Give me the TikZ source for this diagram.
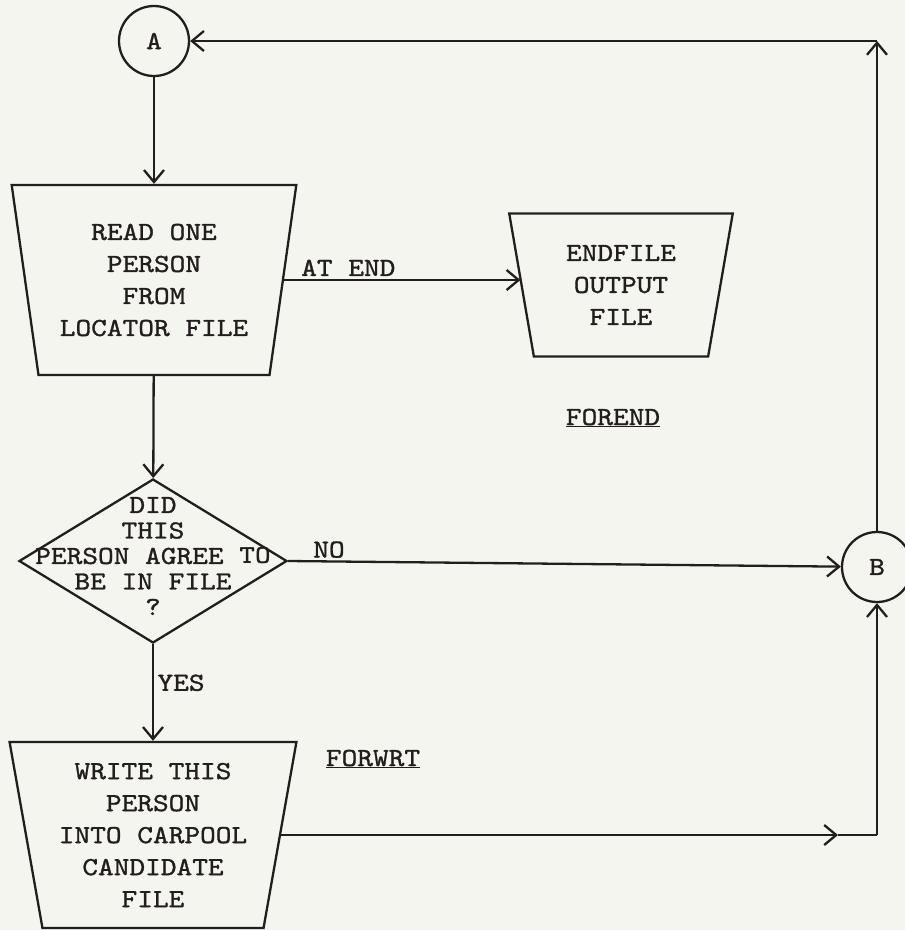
\documentclass[tikz,border=0pt]{standalone}
\usepackage{fontspec}
\setmonofont{lmmono10-regular}[Extension=.otf, BoldFont=lmmonolt10-bold, FakeStretch=1.15, UprightFeatures={FakeBold=1.2}]
\usetikzlibrary{shapes.geometric,arrows.meta}
\definecolor{paper}{RGB}{245,245,240}
\definecolor{ink}{RGB}{35,30,30}
\begin{document}
\begin{tikzpicture}[x=1pt, y=-1pt, line width=2.3pt, color=ink,
    every node/.style={font=\ttfamily\fontsize{26}{32}\selectfont, text=ink},
    flow/.style={-{Straight Barb[length=12pt,width=20pt]}},
    conn/.style={draw, circle, minimum size=70pt, inner sep=0pt},
    iobox/.style={draw, trapezium, shape border rotate=180, trapezium angle=79,
      trapezium stretches=true, align=center, inner sep=0pt},
    decision/.style={draw, diamond, inner sep=0pt, minimum width=268pt, minimum height=164pt}]
  \fill[paper] (0,0) rectangle (905,930);
  \useasboundingbox (0,0) rectangle (905,930);
  % nodes
  \node[conn] (A) at (154,41) {A};
  \node[iobox, minimum width=285pt, minimum height=190pt] (read) at (154,280) {READ ONE\\PERSON\\FROM\\LOCATOR FILE};
  \node[iobox, minimum width=224pt, minimum height=143pt] (endfile) at (621,285) {ENDFILE\\OUTPUT\\FILE};
  \node[anchor=base] (forend) at (613,425) {\underline{FOREND}};
  \node[decision] (agree) at (153,561) {};
  \node[align=center, font=\ttfamily\fontsize{26}{25.5}\selectfont] (agreetxt) at (153,556) {DID\\THIS\\PERSON AGREE \textbf{TO}\\BE IN FILE\\?};
  \node[conn] (B) at (877,567) {B};
  \node[anchor=base] (forwrt) at (373,766) {\underline{FORWRT}};
  \node[iobox, minimum width=287pt, minimum height=186pt] (write) at (153,835) {WRITE THIS\\PERSON\\INTO CARPOOL\\CANDIDATE\\FILE};
  \coordinate (topcorner) at (B.north |- A.east);
  \coordinate (botcorner) at (B.south |- write.east);
  \coordinate (bottip) at ([xshift=-39pt]botcorner);
  % connectors
  \draw[flow] (A) -- (read);
  \draw[flow] (read.east) -- node[pos=0, anchor=south west, xshift=13pt, inner sep=3pt] {AT END} (read.east -| endfile.west);
  \draw[flow] (read) -- (agree);
  \draw[flow] (agree.east) -- node[pos=0, anchor=south west, xshift=22pt, inner sep=2pt] {NO} (B);
  \draw[flow] (agree) -- node[right, pos=0.4] {YES} (write);
  \draw[flow] (write.east) -- (bottip);
  \draw (bottip) -- (botcorner);
  \draw[flow] (botcorner) -- (B.south);
  \draw[flow] (B.north) -- (topcorner);
  \draw[flow] (topcorner) -- (A.east);
\end{tikzpicture}
\end{document}
